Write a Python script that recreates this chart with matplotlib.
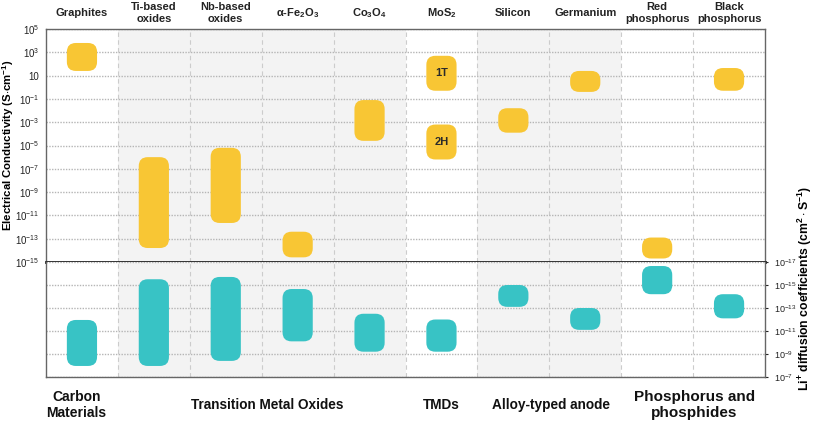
import matplotlib.pyplot as plt
from matplotlib.patches import FancyBboxPatch
from matplotlib.transforms import blended_transform_factory

plt.rcParams['font.family'] = ['Liberation Sans', 'DejaVu Sans']
plt.rcParams['mathtext.fontset'] = 'custom'
plt.rcParams['mathtext.rm'] = 'Liberation Sans'
plt.rcParams['mathtext.bf'] = 'Liberation Sans:bold'

# columns (materials)
materials = ['Graphites', 'Ti-based\noxides', 'Nb-based\noxides', r'$\mathbf{\alpha}$-Fe$_\mathbf{2}$O$_\mathbf{3}$',
             r'Co$_\mathbf{3}$O$_\mathbf{4}$', r'MoS$_\mathbf{2}$', 'Silicon', 'Germanium',
             'Red\nphosphorus', 'Black\nphosphorus']
shaded = [1, 2, 3, 4, 6, 7]

# electrical conductivity ranges, log10(S/cm)
cond_col = [0, 1, 2, 3, 4, 5, 5, 6, 7, 8, 9]
cond_lo = [1.4, -13.8, -11.65, -14.6, -4.6, -0.3, -6.2, -3.9, -0.4, -14.7, -0.3]
cond_hi = [3.8, -6.0, -5.2, -12.4, -1.1, 2.7, -3.2, -1.8, 1.4, -12.9, 1.65]
cond_txt = ['', '', '', '', '', '1T', '2H', '', '', '', '']

# Li+ diffusion coefficient ranges, log10(cm2/s)
diff_col = [0, 1, 2, 3, 4, 5, 6, 7, 8, 9]
diff_lo = [-11.96, -15.5, -15.7, -14.65, -12.5, -12.0, -15.0, -13.0, -16.65, -14.2]
diff_hi = [-7.96, -7.96, -8.4, -10.1, -9.2, -9.2, -13.1, -11.1, -14.2, -12.1]

cond_ticks = [5, 3, 1, -1, -3, -5, -7, -9, -11, -13, -15]
diff_ticks = [-17, -15, -13, -11, -9, -7]

groups = ['Carbon\nMaterials', 'Transition Metal Oxides', 'TMDs', 'Alloy-typed anode', 'Phosphorus and\nphosphides']
group_x = [-0.08, 2.58, 5.0, 6.52, 8.52]
group_size = [10, 9.8, 9.8, 9.8, 11]

yellow = '#F8C634'
teal = '#38C3C5'

W, H = 813, 424
fig = plt.figure(figsize=(W / 100, H / 100), dpi=100)
x0, x1 = 46, 765
ytop, ymid, ybot = 29, 262, 377
ax = fig.add_axes([x0 / W, 1 - ymid / H, (x1 - x0) / W, (ymid - ytop) / H])
ax2 = fig.add_axes([x0 / W, 1 - ybot / H, (x1 - x0) / W, (ybot - ymid) / H])

ax.set_ylim(-15, 5)
ax2.set_ylim(-7, -17)
bar_w = 0.42
rpx = 9.0

for a in (ax, ax2):
    a.set_xlim(-0.5, 9.5)
    for i in shaded:
        a.axvspan(i - 0.5, i + 0.5, color='#F3F3F3', zorder=0, lw=0)
    for i in range(9):
        a.axvline(i + 0.5, color='#CCCCCC', lw=0.8, ls=(0, (4, 3)), zorder=1)
    a.set_xticks([])
    for s in a.spines.values():
        s.set_color('#666666')
        s.set_linewidth(1)
    a.grid(axis='y', color='#B5B5B5', lw=1.0, ls=(0, (1, 1)), zorder=1)


def add_bars(a, cols, lo, hi, color, yrange, hpx):
    xpx = (x1 - x0) / 10
    ypx = hpx / yrange
    r = rpx / xpx
    asp = xpx / ypx
    for c, l, h in zip(cols, lo, hi):
        p = FancyBboxPatch((c - bar_w / 2, l), bar_w, h - l,
                           boxstyle=f'round,pad=0,rounding_size={r}',
                           mutation_aspect=asp, fc=color, ec='none', zorder=3)
        a.add_patch(p)


add_bars(ax, cond_col, cond_lo, cond_hi, yellow, 20, ymid - ytop)
add_bars(ax2, diff_col, diff_lo, diff_hi, teal, 10, ybot - ymid)

for c, l, h, t in zip(cond_col, cond_lo, cond_hi, cond_txt):
    if t:
        ax.text(c, (l + h) / 2, t, ha='center', va='center', fontsize=8,
                fontweight='bold', color='#2a2a2a', zorder=4)

ax.set_yticks(cond_ticks)
ax.set_yticklabels(['10' if t == 1 else r'$\mathregular{10^{%d}}$' % t for t in cond_ticks])
ax.tick_params(axis='y', length=0, labelsize=7, pad=5, colors='#222222')
ax.spines['bottom'].set_color('#222222')
ax.spines['bottom'].set_linewidth(2)
ax.spines['bottom'].set_zorder(5)
ax2.spines['top'].set_visible(False)

ax2.yaxis.tick_right()
ax2.set_yticks(diff_ticks)
ax2.set_yticklabels([r'$\mathregular{10^{%d}}$' % t for t in diff_ticks])
ax2.tick_params(axis='y', length=2.5, labelsize=6.5, pad=4, colors='#222222')

fig.text(8 / W, 1 - 145 / H, r'Electrical Conductivity (S$\cdot$cm$^\mathbf{-1}$)',
         rotation=90, ha='center', va='center', fontsize=8.2, fontweight='bold')
fig.text(805 / W, 1 - 288 / H, r'Li$^\mathbf{+}$ diffusion coefficients (cm$^\mathbf{2}\cdot$S$^\mathbf{-1}$)',
         rotation=90, ha='center', va='center', fontsize=8.8, fontweight='bold')

tr = blended_transform_factory(ax.transData, ax.transAxes)
for i, m in enumerate(materials):
    ax.text(i, 1 + 15.5 / (ymid - ytop), m, transform=tr, ha='center', va='center',
            fontsize=8, fontweight='bold', color='#222222', linespacing=1.25)

tr2 = blended_transform_factory(ax2.transData, ax2.transAxes)
for g, gx, gs in zip(groups, group_x, group_size):
    ax2.text(gx, -28 / (ybot - ymid), g, transform=tr2, ha='center', va='center',
             fontsize=gs, fontweight='bold', color='#111111', linespacing=1.25)

fig.savefig('out.png', dpi=100)
